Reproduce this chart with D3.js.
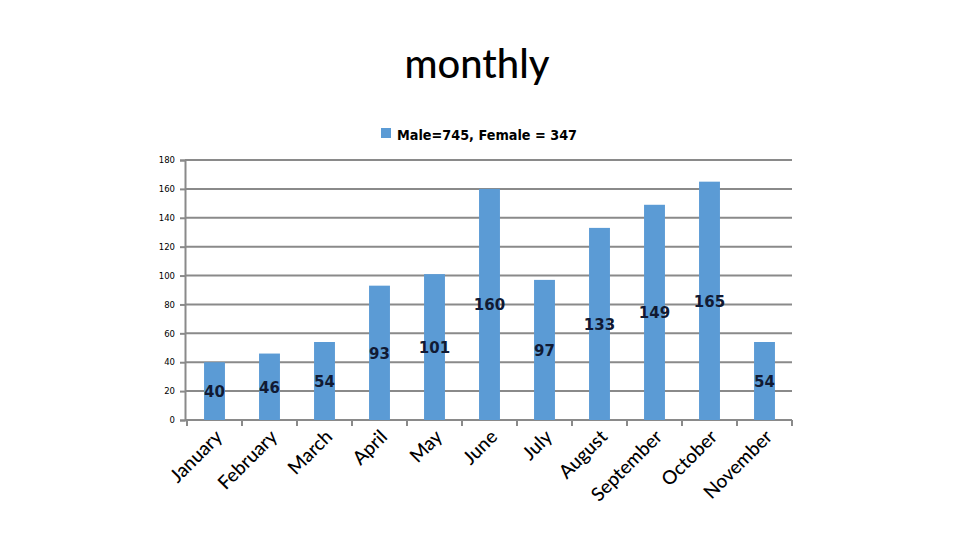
<!DOCTYPE html>
<html><head><meta charset="utf-8">
<script src="https://cdn.jsdelivr.net/npm/d3@7"></script>
<style>body{margin:0;background:#fff}svg{display:block}</style>
</head><body>
<svg id="c" width="960" height="540"></svg>
<script>
const months = ["January","February","March","April","May","June","July","August","September","October","November"];
const values = [40,46,54,93,101,160,97,133,149,165,54];
const yTicks = [0,20,40,60,80,100,120,140,160,180];
const titleText = "monthly";
const legendText = "Male=745, Female = 347";

const svg = d3.select("#c");
const x = d3.scaleBand().domain(months).range([187,792]).paddingInner(0.62).paddingOuter(0.31);
const y = d3.scaleLinear().domain([0,180]).range([420,160]);
const barColor = "#5b9bd5";
const gridColor = "#8a8a8a";

svg.append("text").attr("x",477).attr("y",78).attr("text-anchor","middle")
  .attr("font-family","Lato").attr("font-weight",500).attr("font-size",40).attr("fill","#000")
  .attr("textLength",145).attr("lengthAdjust","spacingAndGlyphs").text(titleText);

svg.append("rect").attr("x",381).attr("y",128).attr("width",10).attr("height",10).attr("fill",barColor);
svg.append("text").attr("x",397).attr("y",140).attr("font-family","DejaVu Sans").attr("font-weight","bold")
  .attr("font-size",14).attr("fill","#000").attr("textLength",180).attr("lengthAdjust","spacingAndGlyphs").text(legendText);

// gridlines + y axis
const yAxis = d3.axisLeft(y).tickValues(yTicks).tickSize(5).tickPadding(5);
const ga = svg.append("g").attr("transform","translate(185,0)").call(yAxis);
ga.select(".domain").attr("stroke",gridColor).attr("stroke-width",2);
ga.selectAll(".tick line").attr("stroke",gridColor).attr("stroke-width",2);
ga.selectAll(".tick text").attr("font-family","DejaVu Sans").attr("font-size",8.5).attr("fill","#000");
svg.append("g").selectAll("line").data(yTicks.filter(d=>d>0)).join("line")
  .attr("x1",185).attr("x2",792).attr("y1",d=>y(d)).attr("y2",d=>y(d))
  .attr("stroke",gridColor).attr("stroke-width",2);

// x axis
const xAxis = d3.axisBottom(x).tickSize(0).tickFormat("");
const gx = svg.append("g").attr("transform","translate(0,420)").call(xAxis);
gx.select(".domain").attr("d","M185,0H792").attr("stroke",gridColor).attr("stroke-width",2);
const edges = months.map((m,i)=>187 + i*x.step()).concat([792]);
svg.append("g").selectAll("line").data(edges).join("line")
  .attr("x1",d=>d).attr("x2",d=>d).attr("y1",420).attr("y2",426)
  .attr("stroke",gridColor).attr("stroke-width",2);

// bars
svg.append("g").selectAll("rect").data(values).join("rect")
  .attr("x",(d,i)=>x(months[i])).attr("width",x.bandwidth())
  .attr("y",d=>y(d)).attr("height",d=>y(0)-y(d)).attr("fill",barColor);

// data labels
svg.append("g").selectAll("text").data(values).join("text")
  .attr("x",(d,i)=>x(months[i])+x.bandwidth()/2).attr("y",d=>y(d/2)+6)
  .attr("text-anchor","middle").attr("font-family","DejaVu Sans").attr("font-weight","bold")
  .attr("font-size",15).attr("fill","#111a33").text(d=>d);

// month labels
svg.append("g").selectAll("text").data(months).join("text")
  .attr("transform",(d)=>`translate(${x(d)+x.bandwidth()/2+9},${438}) rotate(-45)`)
  .attr("text-anchor","end").attr("font-family","Lato").attr("font-weight",500).attr("font-size",19).attr("fill","#000").text(d=>d);
</script>
</body></html>
